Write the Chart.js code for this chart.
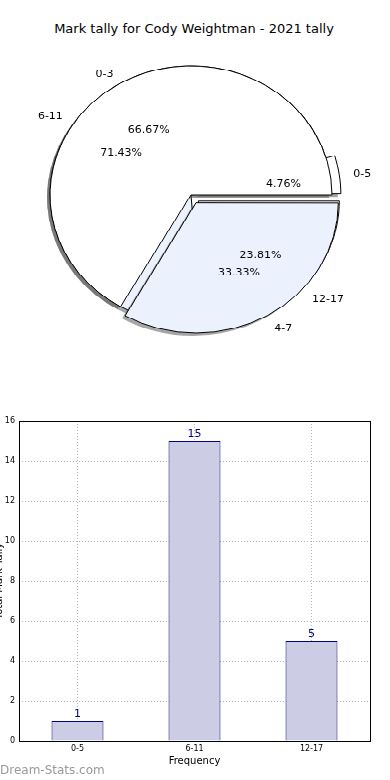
<!DOCTYPE html>
<html>
<head>
<meta charset="utf-8">
<script src="https://cdn.jsdelivr.net/npm/chart.js@4.4.1/dist/chart.umd.min.js"></script>
<style>
  body { margin: 0; background: #fff; width: 390px; height: 780px; position: relative; overflow: hidden; font-family: "DejaVu Sans", sans-serif; }
  #title { position: absolute; top: 21px; left: 0; width: 388px; text-align: center; font-size: 13px; color: #000; }
  #pieWrap { position: absolute; top: 0; left: 0; width: 390px; height: 390px; transform: scaleY(0.915); transform-origin: 0 0; }
  #pieWrap canvas { position: absolute; top: 0; left: 0; }
  #barWrap { position: absolute; top: 400px; left: 0; width: 390px; height: 380px; }
  #mark { position: absolute; left: 0; top: 763px; font-size: 12px; color: #9a9a9a; }
</style>
</head>
<body>
<div id="title">Mark tally for Cody Weightman - 2021 tally</div>
<div id="pieWrap">
  <canvas id="pieB" width="390" height="390"></canvas>
  <canvas id="pieA" width="390" height="390"></canvas>
</div>
<div id="barWrap"><canvas id="bar" width="390" height="380"></canvas></div>
<div id="mark">Dream-Stats.com</div>
<script>
// pie A (drawn on top)
const pieALabels = ["0-3", "4-7"];
const pieAValues = [2, 1];
const pieAColors = ["#ffffff", "#ebf1fd"];
const pieAOffsets = [0, 40];

// pie B (drawn underneath)
const pieBLabels = ["0-5", "6-11", "12-17"];
const pieBValues = [1, 15, 5];
const pieBColors = ["#ffffff", "#ebf1fd", "#ffffff"];
const pieBOffsets = [21, 0, 40];

// bar chart
const barLabels = ["0-5", "6-11", "12-17"];
const barValues = [1, 15, 5];
const yTicks = [0, 2, 4, 6, 8, 10, 12, 14, 16];

const FONT = "'DejaVu Sans', sans-serif";

// how far chart.js actually moves an arc for a given offset
function arcShift(arc) {
  const off = (arc.options.offset || 0) / 4;
  const circ = arc.endAngle - arc.startAngle;
  const fix = 1 - Math.sin(Math.min(Math.PI, circ));
  return { move: off, grow: off * fix };
}

function arcProps(arc) {
  return arc.getProps(["x", "y", "startAngle", "endAngle", "outerRadius"], true);
}

// grey copy of each wedge under the pie, like matplotlib shadow=True
const pieShadow = {
  id: "pieShadow",
  beforeDatasetsDraw(chart) {
    const ctx = chart.ctx;
    chart.getDatasetMeta(0).data.forEach((arc) => {
      const { x, y, startAngle, endAngle, outerRadius } = arcProps(arc);
      const mid = (startAngle + endAngle) / 2;
      const s = arcShift(arc);
      const cx = x + Math.cos(mid) * s.move - 3;
      const cy = y + Math.sin(mid) * s.move + 3;
      ctx.save();
      ctx.fillStyle = "rgba(77,77,77,0.5)";
      ctx.beginPath();
      ctx.moveTo(cx, cy);
      ctx.arc(cx, cy, outerRadius + s.grow, startAngle, endAngle);
      ctx.closePath();
      ctx.fill();
      ctx.restore();
    });
  },
};

// category labels outside, percentages inside (drawn onto ctx of the top canvas)
function drawPieLabels(chart, ctx) {
  const ds = chart.data.datasets[0];
  const total = ds.data.reduce((a, b) => a + b, 0);
  ctx.save();
  ctx.font = "11px " + FONT;
  ctx.fillStyle = "#000";
  ctx.textBaseline = "middle";
  chart.getDatasetMeta(0).data.forEach((arc, i) => {
    const { x, y, startAngle, endAngle, outerRadius } = arcProps(arc);
    const mid = (startAngle + endAngle) / 2;
    const s = arcShift(arc);
    const c = Math.cos(mid), sn = Math.sin(mid);
    const cx = x + c * (s.move + s.grow);
    const cy = y + sn * (s.move + s.grow) + 2;
    ctx.textAlign = c > 0 ? "left" : "right";
    ctx.fillText(chart.data.labels[i], cx + c * 1.1 * outerRadius, cy + sn * 1.1 * outerRadius);
    ctx.textAlign = "center";
    const pct = ((ds.data[i] / total) * 100).toFixed(2) + "%";
    ctx.fillText(pct, cx + c * 0.6 * outerRadius, cy + sn * 0.6 * outerRadius);
  });
  ctx.restore();
}

let pieB = null;
const pieLabels = {
  id: "pieLabels",
  afterDatasetsDraw(chart) {
    drawPieLabels(chart, chart.ctx);
    if (pieB) drawPieLabels(pieB, chart.ctx);
  },
};

// chart area = 2*radius + border + max offset, centred on (191, 213) before the vertical squash
const piePadding = { left: 29.5, right: 37.5, top: 51.5, bottom: 15.5 };

function makePie(id, labels, values, colors, offsets, extra) {
  // chart.js goes clockwise, matplotlib counter-clockwise: reverse and start at 3 o'clock
  return new Chart(document.getElementById(id), {
    type: "pie",
    data: {
      labels: labels.slice().reverse(),
      datasets: [{
        data: values.slice().reverse(),
        backgroundColor: colors.slice().reverse(),
        offset: offsets.slice().reverse(),
        hoverOffset: 0,
        borderColor: "#000",
        borderWidth: 1,
      }],
    },
    options: {
      responsive: false,
      animation: false,
      events: [],
      rotation: 90,
      layout: { padding: piePadding },
      plugins: { legend: { display: false }, tooltip: { enabled: false } },
    },
    plugins: [pieShadow].concat(extra),
  });
}

pieB = makePie("pieB", pieBLabels, pieBValues, pieBColors, pieBOffsets, []);
makePie("pieA", pieALabels, pieAValues, pieAColors, pieAOffsets, [pieLabels]);

// frame, value labels and the clipped y title for the bar chart
const barExtras = {
  id: "barExtras",
  afterDatasetsDraw(chart) {
    const ctx = chart.ctx;
    const a = chart.chartArea;
    ctx.save();
    ctx.strokeStyle = "#000";
    ctx.lineWidth = 1;
    ctx.strokeRect(Math.round(a.left) + 0.5, Math.round(a.top) + 0.5,
      Math.round(a.right - a.left), Math.round(a.bottom - a.top));
    ctx.font = "11px " + FONT;
    ctx.fillStyle = "#000080";
    ctx.textAlign = "center";
    ctx.textBaseline = "bottom";
    chart.getDatasetMeta(0).data.forEach((bar, i) => {
      ctx.fillText(String(chart.data.datasets[0].data[i]), bar.x, bar.y - 1);
    });
    // only the bottom edge of this title shows in the original
    ctx.translate(2, (a.top + a.bottom) / 2);
    ctx.rotate(-Math.PI / 2);
    ctx.fillStyle = "#000";
    ctx.font = "10px " + FONT;
    ctx.textBaseline = "alphabetic";
    ctx.fillText("Total Mark Tally", 0, 0);
    ctx.restore();
  },
};

new Chart(document.getElementById("bar"), {
  type: "bar",
  data: {
    labels: barLabels,
    datasets: [{
      data: barValues,
      backgroundColor: "#ccccE5",
      borderColor: "#000080",
      borderWidth: 1,
      categoryPercentage: 1,
      barPercentage: 0.444,
    }],
  },
  options: {
    responsive: false,
    animation: false,
    events: [],
    layout: { padding: { left: 0, right: 20, top: 21, bottom: 0 } },
    plugins: { legend: { display: false }, tooltip: { enabled: false } },
    scales: {
      x: {
        grid: { display: true, offset: false, color: "#b8b8b8", drawTicks: false },
        border: { display: false, dash: [1, 2] },
        ticks: { color: "#000", font: { size: 8, family: FONT }, padding: 3 },
        title: { display: true, text: "Frequency", color: "#000", font: { size: 10, family: FONT }, padding: { top: 0, bottom: 13 } },
        afterFit: (s) => { s.height = 39; },
      },
      y: {
        min: 0,
        max: 16,
        afterBuildTicks: (s) => { s.ticks = yTicks.map((v) => ({ value: v })); },
        grid: { color: "#b8b8b8", drawTicks: false },
        border: { display: false, dash: [1, 2] },
        ticks: { color: "#000", font: { size: 8, family: FONT }, padding: 4 },
        afterFit: (s) => { s.width = 19; },
      },
    },
  },
  plugins: [barExtras],
});
</script>
</body>
</html>
